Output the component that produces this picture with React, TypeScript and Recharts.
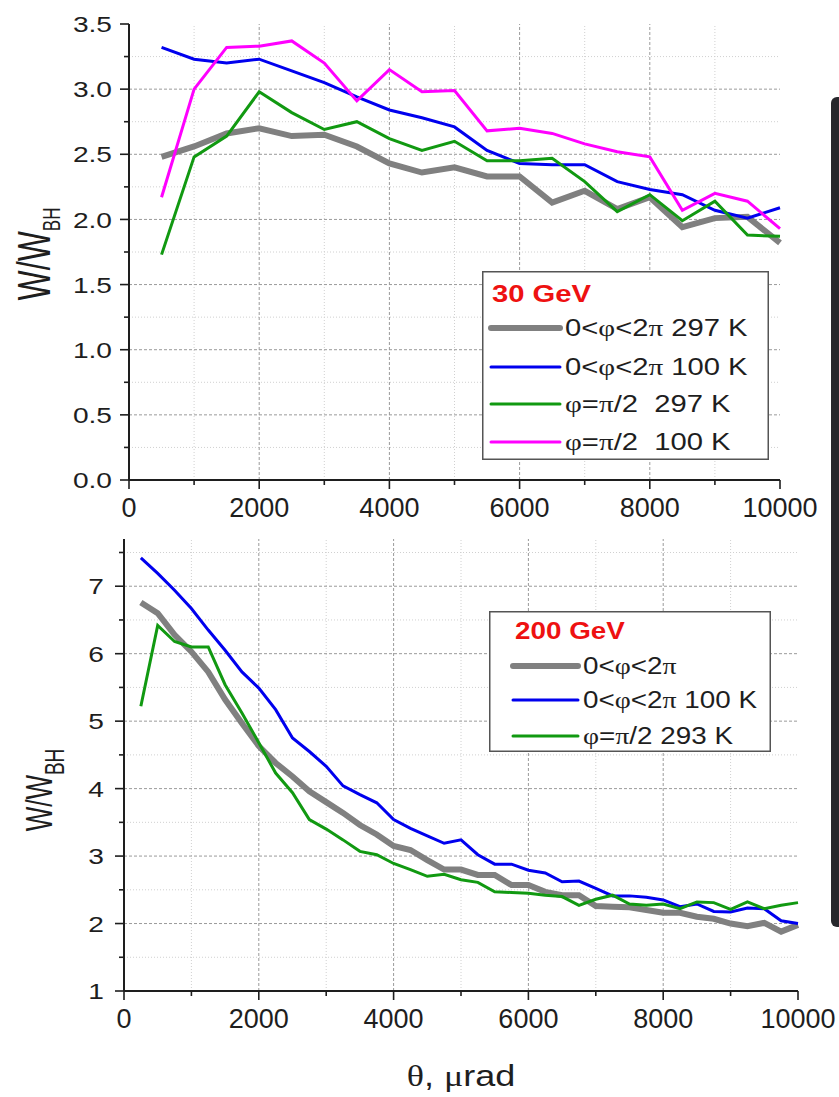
import React from 'react';
import { LineChart, Line, XAxis, YAxis, ReferenceLine, Legend, Label } from 'recharts';

const FONT = '"Liberation Sans", Arial, Helvetica, sans-serif';
const SERIF = '"Liberation Serif", "DejaVu Serif", "Times New Roman", serif';

// ---------- top chart (30 GeV) ----------
const thetaTop = [500, 1000, 1500, 2000, 2500, 3000, 3500, 4000, 4500, 5000, 5500, 6000, 6500, 7000, 7500, 8000, 8500, 9000, 9500, 10000];
const topAll297 = [2.48, 2.56, 2.66, 2.70, 2.64, 2.65, 2.56, 2.43, 2.36, 2.40, 2.33, 2.33, 2.13, 2.22, 2.08, 2.17, 1.94, 2.01, 2.02, 1.82];
const topAll100 = [3.32, 3.23, 3.20, 3.23, 3.14, 3.05, 2.94, 2.84, 2.78, 2.71, 2.53, 2.43, 2.42, 2.42, 2.29, 2.23, 2.19, 2.07, 2.01, 2.09];
const topHalf297 = [1.73, 2.48, 2.64, 2.98, 2.82, 2.69, 2.75, 2.62, 2.53, 2.60, 2.45, 2.45, 2.47, 2.29, 2.06, 2.19, 1.99, 2.14, 1.88, 1.87];
const topHalf100 = [2.17, 3.00, 3.32, 3.33, 3.37, 3.20, 2.91, 3.15, 2.98, 2.99, 2.68, 2.70, 2.66, 2.58, 2.52, 2.48, 2.07, 2.20, 2.14, 1.93];

const topXTicks = [0, 1000, 2000, 3000, 4000, 5000, 6000, 7000, 8000, 9000, 10000];
const topYTicks = [0, 0.25, 0.5, 0.75, 1, 1.25, 1.5, 1.75, 2, 2.25, 2.5, 2.75, 3, 3.25, 3.5];
const topMajorX = [2000, 4000, 6000, 8000];
const topMinorX = [1000, 3000, 5000, 7000, 9000];
const topMajorY = [0.5, 1, 1.5, 2, 2.5, 3];
const topMinorY = [0.25, 0.75, 1.25, 1.75, 2.25, 2.75, 3.25];

// ---------- bottom chart (200 GeV) ----------
const thetaBot = [250, 500, 750, 1000, 1250, 1500, 1750, 2000, 2250, 2500, 2750, 3000, 3250, 3500, 3750, 4000, 4250, 4500, 4750, 5000,
  5250, 5500, 5750, 6000, 6250, 6500, 6750, 7000, 7250, 7500, 7750, 8000, 8250, 8500, 8750, 9000, 9250, 9500, 9750, 10000];
const botAll = [6.76, 6.60, 6.28, 6.03, 5.73, 5.32, 4.97, 4.63, 4.38, 4.18, 3.96, 3.80, 3.64, 3.46, 3.32, 3.15, 3.09, 2.94, 2.80, 2.80,
  2.72, 2.72, 2.57, 2.57, 2.47, 2.42, 2.42, 2.26, 2.25, 2.24, 2.20, 2.16, 2.16, 2.10, 2.07, 2.00, 1.96, 2.01, 1.88, 1.98];
const botAll100 = [7.42, 7.19, 6.94, 6.67, 6.35, 6.05, 5.73, 5.49, 5.17, 4.75, 4.55, 4.33, 4.04, 3.91, 3.79, 3.54, 3.41, 3.30, 3.19, 3.24,
  3.02, 2.88, 2.88, 2.79, 2.75, 2.62, 2.63, 2.52, 2.41, 2.41, 2.39, 2.35, 2.25, 2.29, 2.18, 2.17, 2.23, 2.22, 2.04, 2.00];
const botHalf293 = [5.22, 6.42, 6.18, 6.10, 6.10, 5.54, 5.12, 4.68, 4.23, 3.94, 3.54, 3.40, 3.24, 3.07, 3.02, 2.89, 2.80, 2.70, 2.73, 2.65,
  2.61, 2.47, 2.46, 2.45, 2.42, 2.40, 2.27, 2.36, 2.42, 2.29, 2.27, 2.29, 2.22, 2.32, 2.31, 2.21, 2.32, 2.22, 2.27, 2.31];

const botXTicks = [0, 1000, 2000, 3000, 4000, 5000, 6000, 7000, 8000, 9000, 10000];
const botYTicks = [1, 1.5, 2, 2.5, 3, 3.5, 4, 4.5, 5, 5.5, 6, 6.5, 7, 7.5];
const botMajorX = [2000, 4000, 6000, 8000];
const botMinorX = [1000, 3000, 5000, 7000, 9000];
const botMajorY = [2, 3, 4, 5, 6, 7];
const botMinorY = [1.5, 2.5, 3.5, 4.5, 5.5, 6.5, 7.5];

const GRAY = '#808080';
const BLUE = '#0000ee';
const GREEN = '#119911';
const MAGENTA = '#ff00ff';
const RED = '#ee1111';
const INK = '#1e1e1e';

const topData = thetaTop.map((t, i) => ({ theta: t, a297: topAll297[i], a100: topAll100[i], h297: topHalf297[i], h100: topHalf100[i] }));
const botData = thetaBot.map((t, i) => ({ theta: t, all: botAll[i], all100: botAll100[i], h293: botHalf293[i] }));

const isMult = (v: number, step: number) => Math.abs(v / step - Math.round(v / step)) < 1e-6;

function makeXTick(step: number) {
  return (p: any) => {
    const { x, y, payload } = p;
    const v = payload.value;
    const major = isMult(v, step);
    return (
      <g>
        <line x1={x} x2={x} y1={y} y2={y + (major ? 9 : 5)} stroke={INK} strokeWidth={1.6} />
        {major && (
          <text x={x} y={y + 37} textAnchor="middle" fontSize={27} fill={INK} fontFamily={FONT}>{v}</text>
        )}
      </g>
    );
  };
}

function makeYTick(step: number, gap: number, fmt: (v: number) => string) {
  return (p: any) => {
    const { x, y, payload } = p;
    const v = payload.value;
    const major = isMult(v, step);
    return (
      <g>
        <line x1={x} x2={x - (major ? 9 : 5)} y1={y} y2={y} stroke={INK} strokeWidth={1.6} />
        {major && (
          <g transform={`translate(${x - gap},${y})`}>
            <text transform="scale(1.25,1)" textAnchor="end" dy="0.36em" fontSize={22.5} fill={INK} fontFamily={FONT}>{fmt(v)}</text>
          </g>
        )}
      </g>
    );
  };
}

function yLabel(dx: number, dy: number, fs: number, subFs: number, subDy: number) {
  return (props: any) => {
    const vb = props.viewBox || { x: 0, y: 0, width: 0, height: 0 };
    const cx = vb.x + dx;
    const cy = vb.y + vb.height / 2 + dy;
    return (
      <g transform={`translate(${cx},${cy}) rotate(-90) scale(1,1.45)`}>
        <text textAnchor="middle" fontSize={fs} fill={INK} fontFamily={FONT}>
          W/W<tspan fontSize={subFs} dy={subDy}>BH</tspan>
        </text>
      </g>
    );
  };
}

function xLabel(dy: number) {
  return (props: any) => {
    const vb = props.viewBox || { x: 0, y: 0, width: 0, height: 0 };
    const cx = vb.x + vb.width / 2;
    const cy = vb.y + dy;
    return (
      <g transform={`translate(${cx},${cy})`}>
        <text textAnchor="middle" fontSize={30} fill={INK} fontFamily={FONT} transform="scale(1.2,1)">
          <tspan fontFamily={SERIF}>θ</tspan>, <tspan fontFamily={SERIF}>μ</tspan>rad
        </text>
      </g>
    );
  };
}

function GreekText({ s, ...rest }: any) {
  const parts: React.ReactNode[] = [];
  let buf = '';
  let k = 0;
  for (const ch of s) {
    if (ch === 'φ' || ch === 'π') {
      if (buf) { parts.push(<tspan key={k++}>{buf}</tspan>); buf = ''; }
      parts.push(<tspan key={k++} fontFamily={SERIF}>{ch}</tspan>);
    } else buf += ch;
  }
  if (buf) parts.push(<tspan key={k++}>{buf}</tspan>);
  return <text xmlSpace="preserve" style={{ whiteSpace: 'pre' }} {...rest}>{parts}</text>;
}

type LegItem = { label: string; color: string; width: number };

function LegendBox({ w, h, title, titleX, titleY, items, rows, lx1, lx2, tx, sx, fs }: any) {
  return (
    <svg width={w} height={h} style={{ display: 'block', overflow: 'visible' }}>
      <rect x={0.75} y={0.75} width={w - 1.5} height={h - 1.5} fill="#fff" stroke="#555" strokeWidth={1.5} />
      <g transform={`translate(${titleX},${titleY})`}>
        <text transform={`scale(${sx},1)`} fontSize={fs} fontWeight="bold" fill={RED} fontFamily={FONT}>{title}</text>
      </g>
      {(items as LegItem[]).map((it, i) => (
        <g key={i}>
          <line x1={lx1} x2={lx2} y1={rows[i]} y2={rows[i]} stroke={it.color} strokeWidth={it.width} strokeLinecap="round" />
          <g transform={`translate(${tx},${rows[i]})`}>
            <GreekText s={it.label} transform={`scale(${sx},1)`} dy="0.36em" fontSize={fs} fill={INK} fontFamily={FONT} />
          </g>
        </g>
      ))}
    </svg>
  );
}

const topLegendItems: LegItem[] = [
  { label: '0<φ<2π 297 K', color: GRAY, width: 6 },
  { label: '0<φ<2π 100 K', color: BLUE, width: 3 },
  { label: 'φ=π/2\u00a0 297 K', color: GREEN, width: 3 },
  { label: 'φ=π/2\u00a0 100 K', color: MAGENTA, width: 3 },
];
const botLegendItems: LegItem[] = [
  { label: '0<φ<2π', color: GRAY, width: 6 },
  { label: '0<φ<2π 100 K', color: BLUE, width: 3 },
  { label: 'φ=π/2 293 K', color: GREEN, width: 3 },
];

const majorGrid = { stroke: '#9a9a9a', strokeDasharray: '3 2', strokeWidth: 1 };
const minorGrid = { stroke: '#d0d0d0', strokeDasharray: '1 2', strokeWidth: 1 };

export default function App() {
  return (
    <div style={{ position: 'absolute', left: 0, top: 0, width: 839, height: 1097, background: '#fff', overflow: 'hidden' }}>
      <div style={{ position: 'absolute', left: 0, top: 0 }}>
        <LineChart width={839} height={560} data={topData} margin={{ top: 24, right: 59, bottom: 40, left: 69 }}>
          <XAxis type="number" dataKey="theta" domain={[0, 10000]} ticks={topXTicks} interval={0} tickSize={0} tickMargin={0}
            tickLine={false} axisLine={{ stroke: INK, strokeWidth: 2 }} tick={makeXTick(2000)} height={40} />
          <YAxis type="number" domain={[0, 3.5]} ticks={topYTicks} interval={0} tickSize={0} tickMargin={0} width={60}
            tickLine={false} axisLine={{ stroke: INK, strokeWidth: 2 }} tick={makeYTick(0.5, 17, (v) => v.toFixed(1))}>
            <Label content={yLabel(-19, 2, 32, 17, 7)} />
          </YAxis>
          {topMinorY.map((v) => <ReferenceLine key={'my' + v} y={v} {...minorGrid} />)}
          {topMinorX.map((v) => <ReferenceLine key={'mx' + v} x={v} {...minorGrid} />)}
          {topMajorY.map((v) => <ReferenceLine key={'My' + v} y={v} {...majorGrid} />)}
          {topMajorX.map((v) => <ReferenceLine key={'Mx' + v} x={v} {...majorGrid} />)}
          <Line dataKey="a297" stroke={GRAY} strokeWidth={6} dot={false} isAnimationActive={false} />
          <Line dataKey="a100" stroke={BLUE} strokeWidth={3} dot={false} isAnimationActive={false} />
          <Line dataKey="h297" stroke={GREEN} strokeWidth={3} dot={false} isAnimationActive={false} />
          <Line dataKey="h100" stroke={MAGENTA} strokeWidth={3} dot={false} isAnimationActive={false} />
          <Legend layout="horizontal" verticalAlign="middle" align="center"
            wrapperStyle={{ left: 482, top: 271, width: 287, height: 189 }}
            content={() => (
              <LegendBox w={287} h={189} title="30 GeV" titleX={10} titleY={31} items={topLegendItems}
                rows={[57, 96, 133, 171]} lx1={9} lx2={78} tx={83} sx={1.27} fs={23} />
            )} />
        </LineChart>
      </div>
      <div style={{ position: 'absolute', left: 0, top: 500 }}>
        <LineChart width={839} height={597} data={botData} margin={{ top: 39, right: 41, bottom: 34, left: 64 }}>
          <XAxis type="number" dataKey="theta" domain={[0, 10000]} ticks={botXTicks} interval={0} tickSize={0} tickMargin={0}
            tickLine={false} axisLine={{ stroke: INK, strokeWidth: 2 }} tick={makeXTick(2000)} height={72}>
            <Label content={xLabel(95)} />
          </XAxis>
          <YAxis type="number" domain={[1, 7.7]} ticks={botYTicks} interval={0} tickSize={0} tickMargin={0} width={60}
            tickLine={false} axisLine={{ stroke: INK, strokeWidth: 2 }} tick={makeYTick(1, 20, (v) => String(v))}>
            <Label content={yLabel(-12, 25, 26, 19, 8)} />
          </YAxis>
          {botMinorY.map((v) => <ReferenceLine key={'my' + v} y={v} {...minorGrid} />)}
          {botMinorX.map((v) => <ReferenceLine key={'mx' + v} x={v} {...minorGrid} />)}
          {botMajorY.map((v) => <ReferenceLine key={'My' + v} y={v} {...majorGrid} />)}
          {botMajorX.map((v) => <ReferenceLine key={'Mx' + v} x={v} {...majorGrid} />)}
          <Line dataKey="all" stroke={GRAY} strokeWidth={6} dot={false} isAnimationActive={false} />
          <Line dataKey="all100" stroke={BLUE} strokeWidth={3} dot={false} isAnimationActive={false} />
          <Line dataKey="h293" stroke={GREEN} strokeWidth={3} dot={false} isAnimationActive={false} />
          <Legend layout="horizontal" verticalAlign="middle" align="center"
            wrapperStyle={{ left: 489, top: 111, width: 282, height: 141 }}
            content={() => (
              <LegendBox w={282} h={141} title="200 GeV" titleX={26} titleY={28} items={botLegendItems}
                rows={[55, 89, 125]} lx1={24} lx2={89} tx={94} sx={1.21} fs={23} />
            )} />
        </LineChart>
      </div>
      <div style={{ position: 'absolute', left: 831, top: 97, width: 8, height: 830, background: '#27272c', borderRadius: '6px 0 0 6px' }} />
    </div>
  );
}
